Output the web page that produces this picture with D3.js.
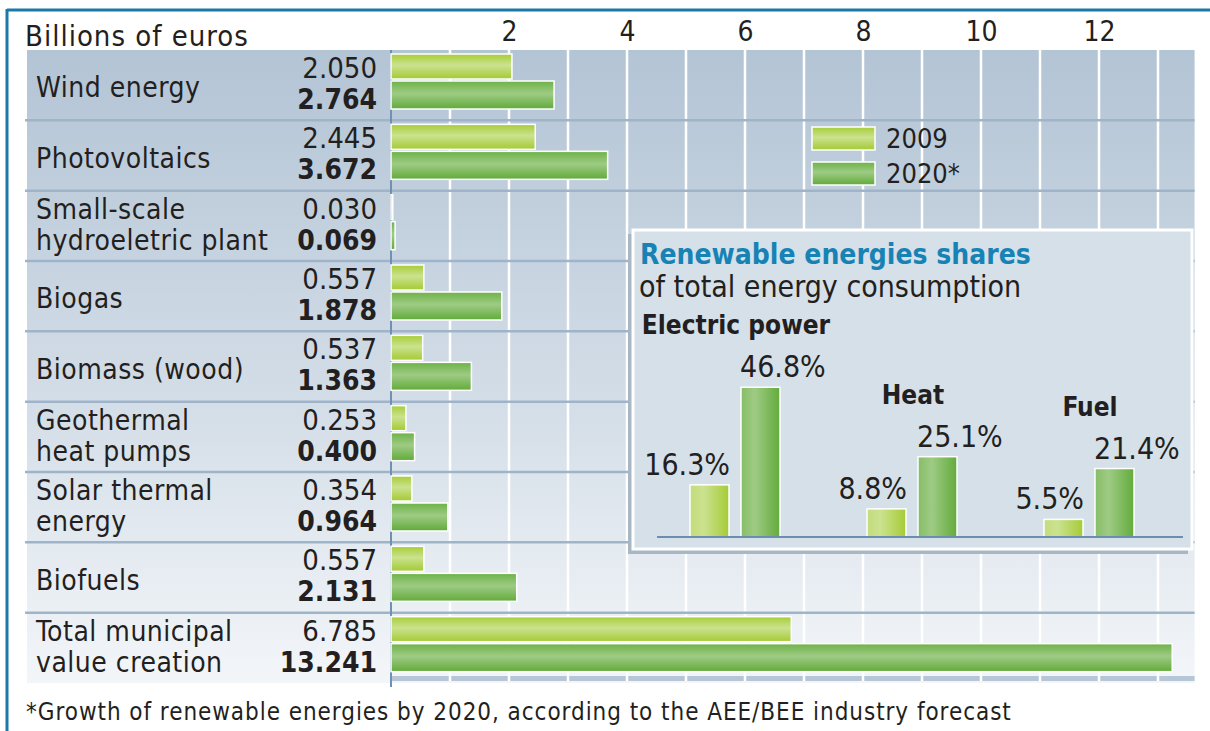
<!DOCTYPE html>
<html>
<head>
<meta charset="utf-8">
<script src="https://cdn.jsdelivr.net/npm/d3@7"></script>
<style>
  body { margin: 0; background: #fff; }
  svg { display: block; font-family: "DejaVu Sans Condensed", "Liberation Sans Narrow", sans-serif; }
  text { fill: #231f20; }
</style>
</head>
<body>
<svg id="chart" width="1210" height="731"></svg>
<script>
// main chart data (billions of euros)
const categories = [
  ['Wind energy'],
  ['Photovoltaics'],
  ['Small-scale', 'hydroeletric plant'],
  ['Biogas'],
  ['Biomass (wood)'],
  ['Geothermal', 'heat pumps'],
  ['Solar thermal', 'energy'],
  ['Biofuels'],
  ['Total municipal', 'value creation']
];
const values2009 = [2.050, 2.445, 0.030, 0.557, 0.537, 0.253, 0.354, 0.557, 6.785];
const values2020 = [2.764, 3.672, 0.069, 1.878, 1.363, 0.400, 0.964, 2.131, 13.241];
const xTicks = [2, 4, 6, 8, 10, 12];
const seriesNames = ['2009', '2020*'];

// inset data (% of total energy consumption)
const shareGroups = ['Electric power', 'Heat', 'Fuel'];
const shares2009 = [16.3, 8.8, 5.5];
const shares2020 = [46.8, 25.1, 21.4];

const svg = d3.select('#chart');
const defs = svg.append('defs');

function grad(id, stops, horizontal) {
  let g = defs.append('linearGradient').attr('id', id)
    .attr('x1', 0).attr('y1', 0)
    .attr('x2', horizontal ? 1 : 0).attr('y2', horizontal ? 0 : 1);
  stops.forEach(s => g.append('stop').attr('offset', s[0]).attr('stop-color', s[1]));
}
grad('bg', [[0, '#b3c4d5'], [0.55, '#d3dde7'], [1, '#f3f6f9']]);
grad('g09', [[0, '#a7cd37'], [0.45, '#cbe28f'], [1, '#a3ca33']]);
grad('g20', [[0, '#6db247'], [0.45, '#9ecb84'], [1, '#61aa3a']]);
grad('g09v', [[0, '#c3dc7c'], [0.35, '#cbe28f'], [1, '#a5cb36']], true);
grad('g20v', [[0, '#86bd66'], [0.35, '#9ecb84'], [1, '#63ab3b']], true);

// frame
svg.append('line').attr('x1', 7).attr('x2', 1210).attr('y1', 10).attr('y2', 10)
  .attr('stroke', '#1b79a8').attr('stroke-width', 3);
svg.append('line').attr('x1', 7).attr('x2', 7).attr('y1', 9).attr('y2', 731)
  .attr('stroke', '#1b79a8').attr('stroke-width', 3);

const topY = 50, bottomY = 683;
const x = d3.scaleLinear().domain([0, 13]).range([391, 1158]);
const y = d3.scaleBand().domain(d3.range(categories.length)).range([topY, bottomY]);
const xEnd = x(13.62);

// background panel
svg.append('rect').attr('x', 27).attr('y', topY).attr('width', xEnd - 27).attr('height', bottomY - topY)
  .attr('fill', 'url(#bg)');
svg.append('rect').attr('x', 391).attr('y', bottomY - 7).attr('width', xEnd - 391).attr('height', 5)
  .attr('fill', '#b6c6d6');

// white grid lines
svg.append('g').selectAll('line')
  .data(d3.range(1, 14))
  .join('line')
  .attr('x1', d => x(d)).attr('x2', d => x(d))
  .attr('y1', topY).attr('y2', bottomY - 2)
  .attr('stroke', '#fff').attr('stroke-width', 2.5);

// row separators
svg.append('g').selectAll('line')
  .data(d3.range(1, categories.length))
  .join('line')
  .attr('x1', 25).attr('x2', xEnd)
  .attr('y1', d => y(d)).attr('y2', d => y(d))
  .attr('stroke', '#9fb4c9').attr('stroke-width', 2.5);

// axis line
svg.append('line').attr('x1', 391).attr('x2', 391).attr('y1', topY).attr('y2', bottomY + 4)
  .attr('stroke', '#6f92b3').attr('stroke-width', 2);

// top axis
const axis = svg.append('g').attr('transform', 'translate(0,' + 41 + ')')
  .call(d3.axisTop(x).tickValues(xTicks).tickSize(0).tickPadding(0));
axis.select('.domain').remove();
axis.attr('font-family', null).attr('font-size', null);
axis.selectAll('text').attr('font-size', 28).attr('fill', '#231f20')
  .attr('y', 0).attr('dy', 0);

svg.append('text').attr('x', 25).attr('y', 46).attr('font-size', 29).attr('letter-spacing', 1)
  .text('Billions of euros');

// bars
const bh09 = 25, bh20 = 28;
svg.append('g').selectAll('rect')
  .data(values2009)
  .join('rect')
  .attr('x', x(0)).attr('y', (d, i) => y(i) + 4)
  .attr('width', d => x(d) - x(0)).attr('height', bh09)
  .attr('fill', 'url(#g09)').attr('stroke', '#fff').attr('stroke-width', 1.5);
svg.append('g').selectAll('rect')
  .data(values2020)
  .join('rect')
  .attr('x', x(0)).attr('y', (d, i) => y(i) + 31)
  .attr('width', d => x(d) - x(0)).attr('height', bh20)
  .attr('fill', 'url(#g20)').attr('stroke', '#fff').attr('stroke-width', 1.5);

// category labels, one text per line
const labelLines = categories.flatMap((lines, i) =>
  lines.map((t, j) => ({ t, i, j, n: lines.length })));
svg.append('g').selectAll('text')
  .data(labelLines)
  .join('text')
  .attr('font-size', 28).attr('letter-spacing', 0.5)
  .attr('x', 36)
  .attr('y', d => y(d.i) + y.bandwidth() / 2 + (d.n === 1 ? 12 : -7 + d.j * 31))
  .text(d => d.t);

// value labels
svg.append('g').selectAll('text')
  .data(values2009)
  .join('text')
  .attr('x', 377).attr('y', (d, i) => y(i) + 28)
  .attr('text-anchor', 'end').attr('font-size', 29)
  .text(d => d3.format('.3f')(d));
svg.append('g').selectAll('text')
  .data(values2020)
  .join('text')
  .attr('x', 377).attr('y', (d, i) => y(i) + 59)
  .attr('text-anchor', 'end').attr('font-size', 28).attr('font-weight', 'bold')
  .text(d => d3.format('.3f')(d));

// legend
const legend = svg.append('g').selectAll('g')
  .data(seriesNames)
  .join('g')
  .attr('transform', (d, i) => 'translate(812,' + (127 + i * 35) + ')');
legend.append('rect').attr('width', 63).attr('height', 23)
  .attr('fill', (d, i) => i === 0 ? 'url(#g09)' : 'url(#g20)')
  .attr('stroke', '#fff').attr('stroke-width', 1.5);
legend.append('text').attr('x', 74).attr('y', 21).attr('font-size', 27).text(d => d);

// inset
const inset = svg.append('g');
inset.append('rect').attr('x', 628).attr('y', 234).attr('width', 560).attr('height', 320)
  .attr('fill', '#a9b7c5');
inset.append('rect').attr('x', 633).attr('y', 230).attr('width', 559).attr('height', 319)
  .attr('fill', '#d6e0e9').attr('stroke', '#fff').attr('stroke-width', 3);
inset.append('text').attr('x', 640).attr('y', 264).attr('font-size', 28).attr('font-weight', 'bold')
  .style('fill', '#1783b5').text('Renewable energies shares');
inset.append('text').attr('x', 639).attr('y', 297).attr('font-size', 30)
  .text('of total energy consumption');

const gx = d3.scaleBand().domain(shareGroups).range([690, 690 + 177 * 3]);
const sx = d3.scaleBand().domain(['2009', '2020']).range([0, 90]).paddingInner(0.235);
const ys = d3.scaleLinear().domain([0, 50]).range([537, 377]);

const groups = inset.selectAll('g.grp')
  .data(shareGroups)
  .join('g').attr('class', 'grp')
  .attr('transform', d => 'translate(' + gx(d) + ',0)');

groups.append('rect')
  .attr('x', sx('2009')).attr('width', sx.bandwidth())
  .attr('y', (d, i) => ys(shares2009[i])).attr('height', (d, i) => ys(0) - ys(shares2009[i]))
  .attr('fill', 'url(#g09v)').attr('stroke', '#fff').attr('stroke-width', 1.5);
groups.append('rect')
  .attr('x', sx('2020')).attr('width', sx.bandwidth())
  .attr('y', (d, i) => ys(shares2020[i])).attr('height', (d, i) => ys(0) - ys(shares2020[i]))
  .attr('fill', 'url(#g20v)').attr('stroke', '#fff').attr('stroke-width', 1.5);

groups.append('text')
  .attr('x', sx('2009') + sx.bandwidth() + 1).attr('y', (d, i) => ys(shares2009[i]) - 10)
  .attr('text-anchor', 'end').attr('font-size', 30)
  .text((d, i) => shares2009[i].toFixed(1) + '%');
groups.append('text')
  .attr('x', sx('2020') - 1).attr('y', (d, i) => ys(shares2020[i]) - 10)
  .attr('font-size', 30)
  .text((d, i) => shares2020[i].toFixed(1) + '%');
groups.append('text')
  .attr('x', 46).attr('y', (d, i) => ys(shares2020[i]) - 53)
  .attr('text-anchor', 'middle').attr('font-size', 26).attr('font-weight', 'bold')
  .text(d => d);

inset.append('line').attr('x1', 657).attr('x2', 1183).attr('y1', ys(0)).attr('y2', ys(0))
  .attr('stroke', '#6a8db0').attr('stroke-width', 2);

// footnote
svg.append('text').attr('x', 26).attr('y', 720).attr('font-size', 24).attr('letter-spacing', 0.95)
  .text('*Growth of renewable energies by 2020, according to the AEE/BEE industry forecast');
</script>
</body>
</html>
